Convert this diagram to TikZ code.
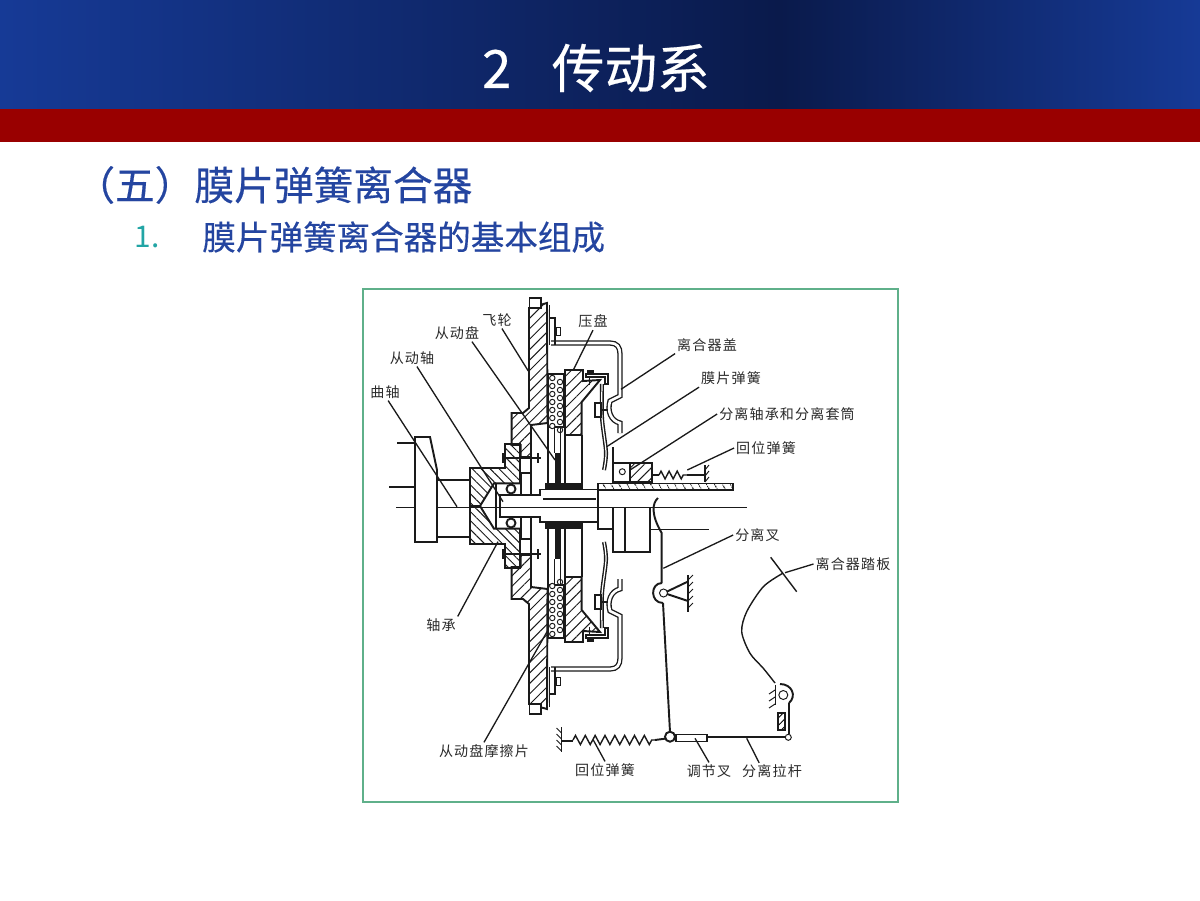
\documentclass[tikz,border=0pt]{standalone}
\usepackage{fontspec}
\setmainfont{Noto Sans CJK SC}
\newfontfamily\labelFont[LetterSpace=8]{Noto Sans CJK SC}
\newfontfamily\headFont[FakeBold=0.4]{Noto Sans CJK SC}
\usetikzlibrary{patterns.meta,decorations.pathmorphing}
\definecolor{headLeft}{HTML}{163A96}
\definecolor{headMid}{HTML}{0A1A4B}
\definecolor{headRed}{HTML}{990000}
\definecolor{headBlue}{HTML}{2445A0}
\definecolor{numTeal}{HTML}{22A5A5}
\definecolor{frameGreen}{HTML}{5FB08A}
\definecolor{inkGrey}{HTML}{1A1A1A}
\definecolor{textGrey}{HTML}{2A2A2A}

\begin{document}
\begin{tikzpicture}[x=0.02cm, y=-0.02cm]
    \tikzstyle{labelStyle} = [font=\labelFont\fontsize{8pt}{9pt}\selectfont, text=textGrey, inner sep=1pt]
    \tikzstyle{leaderEdge} = [draw=inkGrey, line width=0.75pt]
    \tikzstyle{thinLine} = [draw=inkGrey, line width=0.55pt]
    \tikzstyle{thickLine} = [draw=inkGrey, line width=1.1pt]
    \tikzstyle{coverLine} = [draw=inkGrey, line width=0.75pt, double=white, double distance=1.5pt]
    \tikzstyle{hatchRight} = [thickLine, pattern={Lines[angle=45,distance=4.2pt,line width=0.55pt]}, pattern color=inkGrey]
    \tikzstyle{hatchLeft} = [thickLine, pattern={Lines[angle=-45,distance=3.6pt,line width=0.55pt]}, pattern color=inkGrey]
    \tikzstyle{upperHalf} = []
    \tikzstyle{lowerHalf} = [shift={(0,1012)}, yscale=-1]
    \tikzstyle{bigSpring} = [thinLine, line width=0.8pt, decorate, decoration={zigzag, segment length=5.6pt, amplitude=2.6pt}]
    \tikzstyle{smallSpring} = [thinLine, line width=0.8pt, decorate, decoration={zigzag, segment length=4.6pt, amplitude=2.2pt}]
    \useasboundingbox (0,0) rectangle (1200,900);
    \fill[white] (0,0) rectangle (1200,900);
    % header
    \shade[left color=headLeft, right color=headMid] (0,0) rectangle (780,109);
    \shade[left color=headMid, right color=headLeft] (780,0) rectangle (1200,109);
    \fill[headRed] (0,109) rectangle (1200,142);
    \node[text=white, font=\headFont\fontsize{30pt}{32pt}\selectfont] (title) at (596,68) {2\hspace{23pt}传动系};
    \node[anchor=west, inner sep=0pt, text=headBlue, font=\headFont\fontsize{22.6pt}{25pt}\selectfont] (section) at (75,185) {（五）膜片弹簧离合器};
    \node[inner sep=0pt, text=numTeal, font=\fontsize{17pt}{20pt}\selectfont] (itemNum) at (147,237) {1.};
    \node[anchor=west, inner sep=0pt, text=headBlue, font=\headFont\fontsize{19.1pt}{22pt}\selectfont] (itemText) at (202,237) {膜片弹簧离合器的基本组成};
    % frame
    \draw[frameGreen, line width=1.1pt] (363,289) rectangle (898,802);

    % both halves of the clutch
    \foreach \side in {upperHalf,lowerHalf} {
        \begin{scope}[\side]
            % flywheel
            \draw[hatchRight] (529,308) -- (547,303) -- (547.5,423) -- (531,425) -- (531,457)
                -- (520.7,457) -- (520.7,445) -- (511.7,445) -- (511.7,413) -- (523,413) -- (529,408) -- cycle;
            \draw[thickLine, fill=white] (529.5,298) rectangle (541,308);
            % crank flange
            \draw[hatchLeft] (470,468) -- (505,468) -- (505,444) -- (520,444) -- (520,483.3)
                -- (494,483.3) -- (480,506) -- (470,506) -- cycle;
            \draw[thickLine] (496,484) -- (496,506);
            % bearing and bolt
            \draw[thickLine, fill=white] (521,473) rectangle (531,495);
            \draw[thickLine, fill=white] (511,489) circle (4.5);
            \draw[thickLine] (502,458.3) -- (541,458.3);
            \draw[thickLine] (503,453) -- (503,463);
            \draw[thickLine] (538,453) -- (538,463);
            \draw[thickLine] (531,425) -- (531,495);
            % cover
            \draw[coverLine] (551,343) -- (610,343) .. controls (617,343) and (620,347) .. (620,354)
                -- (620,392) -- (620,396) -- (610,401)
                .. controls (607,411) and (611,421) .. (620,423) -- (620,433);
            \draw[thickLine] (549.5,318) -- (555,318) -- (555,345);
            \draw[thickLine] (549.5,305) -- (549.5,345);
            \draw[thinLine, fill=white] (556,327) rectangle (560,335);
            % friction lining
            \draw[thickLine, fill=white] (548.3,374) rectangle (564,427);
            \foreach \y in {378,386,...,426} {
                \draw[thinLine, fill=white] (552.3,\y) circle (2.7);
                \draw[thinLine, fill=white] (560,\y+4) circle (2.7);
            }
            % pressure plate
            \draw[hatchRight] (565,370) -- (583,370) -- (583,381) -- (600,380) -- (581.7,402) -- (581.7,435) -- (565,435) -- cycle;
            \draw[thickLine] (565,435) -- (565,485);
            \draw[thickLine] (581.7,435) -- (581.7,485);
            % driven plate
            \draw[thickLine] (548.3,427) -- (548.3,485);
            \draw[thinLine] (554,427) -- (554,453);
            \draw[thinLine] (560,427) -- (560,453);
            \fill[inkGrey] (555,453) rectangle (561,485);
            \fill[inkGrey] (545,483.3) rectangle (583.3,489.3);
            % diaphragm spring
            \draw[thickLine, fill=white] (586,374) -- (608,374) -- (608,384) -- (605,384) -- (605,377) -- (586,377) -- cycle;
            \fill[inkGrey] (587,370) rectangle (594,374);
            \draw[thickLine] (589.5,377) -- (589.5,385);
            \draw[thinLine, line width=0.8pt, double=white, double distance=0.7pt] plot[smooth] coordinates {(602,384) (602,418) (606,452) (604,470)};
            \draw[thickLine, fill=white] (595,403) rectangle (601,417);
            \draw[thickLine] (601,410) -- (608,410);
        \end{scope}
    }
    % shaft
    \draw[thickLine, fill=white] (500,495) -- (540,495) -- (540,489.5) -- (598,489.5) -- (598,509) -- (598,522) -- (540,522) -- (540,517) -- (500,517) -- cycle;
    \draw[thickLine] (543,499.3) -- (596,499.3);
    \draw[thinLine] (396,507.5) -- (747,507.5);
    % crankshaft
    \draw[thickLine, fill=white] (415,437) -- (430,437) -- (437,470) -- (437,542) -- (415,542) -- cycle;
    \draw[thickLine] (397,443) -- (415,443);
    \draw[thickLine] (389,487) -- (415,487);
    \draw[thickLine] (437,480) -- (470,480);
    \draw[thickLine] (438,537) -- (470,537);
    % release sleeve and upper return spring
    \draw[thickLine, pattern={Lines[angle=-60,distance=4pt,line width=0.6pt]}, pattern color=inkGrey] (598,483.5) rectangle (733,490);
    \draw[thickLine, fill=white] (612.7,463.3) rectangle (651.7,481.7);
    \draw[hatchRight] (630,463.3) rectangle (651.7,481.7);
    \draw[thinLine, fill=white] (622.3,471.7) circle (3);
    \draw[thickLine] (612.7,447) -- (612.7,463.3);
    \draw[smallSpring] (659,475) -- (687,475);
    \draw[thinLine, line width=0.8pt] (651.7,475) -- (659,475);
    \draw[thinLine, line width=0.8pt] (687,475) -- (705,475);
    \draw[thickLine] (705,465) -- (705,482);
    \foreach \y in {470,476,482}
        \draw[thinLine] (705,\y) -- (709,\y-5);
    % gearbox block
    \draw[thickLine, fill=white] (612.7,507.5) rectangle (650,551.7);
    \draw[thickLine] (625,507.5) -- (625,551.7);
    \draw[thickLine] (598.3,509) -- (598.3,529.3) -- (612.7,529.3);
    \draw[thickLine] (650,529.5) -- (709,529.5);
    % release fork
    \draw[thickLine] (658,498) .. controls (652,503) and (651,515) .. (661.7,533) -- (661.7,583);
    \draw[thickLine] (663,603) -- (670,732);
    \draw[thickLine] (662,583) .. controls (650,583) and (650,603) .. (663,603);
    \draw[thickLine] (664,593) -- (688,581.5);
    \draw[thickLine] (664,593) -- (688,601);
    \draw[thinLine, fill=white] (663.5,593) circle (4);
    \draw[thickLine] (688,575) -- (688,612);
    \foreach \y in {580,587,...,612}
        \draw[thinLine] (688,\y) -- (693,\y-5);
    % linkage below
    \draw[thickLine] (561.5,727) -- (561.5,752);
    \foreach \y in {733,739,...,753}
        \draw[thinLine] (561.5,\y) -- (556.5,\y-5);
    \draw[thickLine] (561.5,741) -- (573,741);
    \draw[bigSpring] (573,740) -- (655,740);
    \draw[thickLine] (655,740) -- (670,738);
    \draw[thickLine, fill=white] (676,734.5) rectangle (706.7,741.5);
    \draw[thickLine] (706.7,737.3) -- (786,737.3);
    \draw[thickLine, fill=white] (670,736.7) circle (5);
    \draw[thinLine, fill=white] (788.3,737.3) circle (3);
    % pedal
    \draw[thickLine] (789,734) -- (789,703);
    \draw[thickLine] (789,703) .. controls (797,696) and (792,684) .. (780,684);
    \draw[thinLine, fill=white] (783.3,695) circle (4.5);
    \draw[thinLine, line width=0.8pt] plot[smooth] coordinates {(775,683) (763.3,668.3) (750,653.3) (741.7,631.7) (746.7,611.7) (763.3,586.7) (782.7,573.3)};
    \draw[thinLine, line width=0.8pt] (770.7,557.3) -- (796.7,591.7);
    \draw[thinLine] (775,685) -- (775,705);
    \foreach \y in {690,697,704}
        \draw[thinLine] (775,\y) -- (769,\y+4);
    \draw[thickLine, pattern={Lines[angle=45,distance=3pt,line width=0.5pt]}] (778.3,713.3) rectangle (785,730);
    % labels
    \node[labelStyle] (quZhou) at (385,392) {曲轴};
    \node[labelStyle] (congDongZhou) at (412,358) {从动轴};
    \node[labelStyle] (congDongPan) at (457,333) {从动盘};
    \node[labelStyle] (feiLun) at (497,320) {飞轮};
    \node[labelStyle] (yaPan) at (593,321.5) {压盘};
    \node[labelStyle] (liHeGai) at (707,345) {离合器盖};
    \node[labelStyle] (moPian) at (731,378.5) {膜片弹簧};
    \node[labelStyle] (fenLiTao) at (787,414) {分离轴承和分离套筒};
    \node[labelStyle] (huiWeiUp) at (766,448) {回位弹簧};
    \node[labelStyle] (fenLiCha) at (757.5,535) {分离叉};
    \node[labelStyle] (taBan) at (853,564) {离合器踏板};
    \node[labelStyle] (zhouCheng) at (441,625) {轴承};
    \node[labelStyle] (moCa) at (484,751) {从动盘摩擦片};
    \node[labelStyle] (huiWeiLow) at (605,770) {回位弹簧};
    \node[labelStyle] (tiaoJie) at (709,771) {调节叉};
    \node[labelStyle] (laGan) at (772,771.5) {分离拉杆};
    % leader ends
    \coordinate (quZhouEnd) at (457,506.7);
    \coordinate (congDongZhouEnd) at (503,501.7);
    \coordinate (congDongPanEnd) at (555,460);
    \coordinate (feiLunEnd) at (528.3,371);
    \coordinate (yaPanEnd) at (573.3,370);
    \coordinate (liHeGaiEnd) at (621,389.3);
    \coordinate (moPianEnd) at (606.7,446.7);
    \coordinate (fenLiTaoEnd) at (630,470);
    \coordinate (huiWeiUpEnd) at (687.3,470);
    \coordinate (fenLiChaEnd) at (663.3,568.3);
    \coordinate (taBanEnd) at (785,572.7);
    \coordinate (zhouChengEnd) at (498,541.7);
    \coordinate (moCaEnd) at (548,630);
    \coordinate (huiWeiLowEnd) at (593.3,740);
    \coordinate (tiaoJieEnd) at (695,738.3);
    \coordinate (laGanEnd) at (746.7,738.3);
    \foreach \from/\to in {quZhou.-70/quZhouEnd, congDongZhou.-60/congDongZhouEnd,
                           congDongPan.-30/congDongPanEnd, feiLun.-60/feiLunEnd, yaPan.south/yaPanEnd,
                           liHeGai.south west/liHeGaiEnd, moPian.south west/moPianEnd, fenLiTao.west/fenLiTaoEnd,
                           huiWeiUp.west/huiWeiUpEnd, fenLiCha.west/fenLiChaEnd, taBan.west/taBanEnd,
                           zhouCheng.north east/zhouChengEnd, moCa.north/moCaEnd, huiWeiLow.north/huiWeiLowEnd,
                           tiaoJie.north/tiaoJieEnd, laGan.146/laGanEnd}
        \path[leaderEdge] (\from) edge (\to);
\end{tikzpicture}
\end{document}
